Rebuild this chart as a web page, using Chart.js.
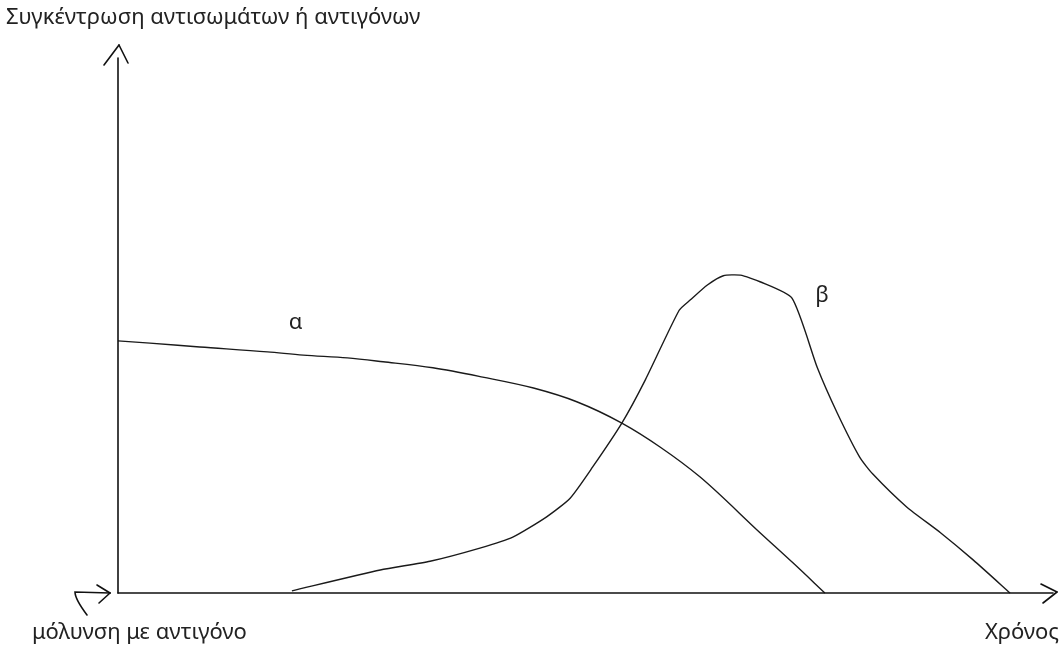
<!DOCTYPE html>
<html>
<head>
<meta charset="utf-8">
<title>Συγκέντρωση αντισωμάτων ή αντιγόνων</title>
<script src="https://cdn.jsdelivr.net/npm/chart.js@4/dist/chart.umd.min.js"></script>
<style>
    html, body { margin: 0; padding: 0; background: #fff; }
    #wrap { width: 1064px; height: 646px; }
</style>
</head>
<body>
<div id="wrap"><canvas id="curves"></canvas></div>
<script>

//curve α (antigen), x = time, y = concentration
const alphaX = [0, 3.4, 8.7, 15.9, 19.7, 24.4, 28.2, 33.5, 38.8, 44.2, 48.8, 53.6, 57.7, 61.9, 68.3, 71.8, 75.2];
const alphaY = [46.0, 45.6, 44.9, 44.0, 43.4, 42.9, 42.2, 41.1, 39.4, 37.4, 34.9, 31.0, 26.6, 21.2, 11.0, 5.5, 0];

//curve β (antibodies)
const betaX = [18.5, 27.9, 33.2, 38.5, 42.0, 45.6, 48.1, 50.5, 53.6, 56.1, 59.7, 60.9, 62.7, 64.4, 66.2, 68.3, 71.7, 74.4, 76.5, 78.9, 80.3, 83.9, 87.5, 91.0, 94.9];
const betaY = [0.4, 4.2, 5.8, 8.2, 10.2, 13.9, 17.3, 23.0, 31.0, 38.9, 51.6, 53.5, 56.2, 57.9, 58.0, 56.8, 53.8, 41.1, 32.9, 24.8, 21.7, 15.7, 11.0, 6.0, 0];

const yTitle = 'Συγκέντρωση αντισωμάτων ή αντιγόνων';
const startLabel = 'μόλυνση με αντιγόνο';
const xTitle = 'Χρόνος';
const curveNames = ['α', 'β'];

let canvas = document.getElementById("curves");
const textFont = '22px "Noto Sans", "Open Sans", sans-serif';
const ink = '#222';

function toPoints(xs, ys){
    let pts = [];
    for(let i = 0; i < xs.length; i++){
        pts.push({x: xs[i], y: ys[i]});
    }
    return pts;
}

function line(ctx, x1, y1, x2, y2){
    ctx.beginPath();
    ctx.moveTo(x1, y1);
    ctx.lineTo(x2, y2);
    ctx.stroke();
}

//hand drawn axes, arrows and texts
const sketchPlugin = {
    id: 'sketch',
    afterDatasetsDraw(chart){
        let ctx = chart.ctx;
        let sx = chart.scales.x;
        let sy = chart.scales.y;
        let ox = sx.getPixelForValue(0);
        let oy = sy.getPixelForValue(0);
        let top = chart.chartArea.top;
        let right = chart.chartArea.right;

        ctx.save();
        ctx.strokeStyle = '#111';
        ctx.lineWidth = 1.6;
        ctx.lineCap = 'round';

        //y axis
        line(ctx, ox, oy, ox, top + 13);
        line(ctx, ox + 1, top, ox - 14, top + 20);
        line(ctx, ox + 1, top, ox + 10, top + 18);

        //x axis
        line(ctx, ox, oy, right - 5, oy);
        line(ctx, right - 1, oy - 1, right - 17, oy - 9);
        line(ctx, right - 1, oy - 1, right - 15, oy + 10);

        //infection arrow
        ctx.beginPath();
        ctx.moveTo(ox - 31, oy + 22);
        ctx.quadraticCurveTo(ox - 43, oy + 6, ox - 43, oy - 1);
        ctx.lineTo(ox - 8, oy);
        ctx.stroke();
        line(ctx, ox - 8, oy, ox - 21, oy - 8);
        line(ctx, ox - 8, oy, ox - 19, oy + 10);

        //texts
        ctx.fillStyle = ink;
        ctx.font = textFont;
        ctx.textBaseline = 'middle';
        ctx.textAlign = 'left';
        ctx.fillText(yTitle, 6, 18);
        ctx.fillText(startLabel, 32, 633);
        ctx.textAlign = 'right';
        ctx.fillText(xTitle, 1059, 633);

        ctx.textAlign = 'center';
        ctx.fillText(curveNames[0], sx.getPixelForValue(18.9), sy.getPixelForValue(49.3));
        ctx.fillText(curveNames[1], sx.getPixelForValue(74.9), sy.getPixelForValue(54.2));
        ctx.restore();
    }
};

let graphChart = new Chart(canvas, {
    type: 'scatter',
    data: {
        datasets: [{
            label: curveNames[0],
            data: toPoints(alphaX, alphaY),
            showLine: true,
            borderColor: '#1a1a1a',
            borderWidth: 1.4,
            pointRadius: 0,
            cubicInterpolationMode: 'monotone'
        }, {
            label: curveNames[1],
            data: toPoints(betaX, betaY),
            showLine: true,
            borderColor: '#1a1a1a',
            borderWidth: 1.4,
            pointRadius: 0,
            tension: 0.2
        }]
    },
    options: {
        responsive: true,
        maintainAspectRatio: false,
        animation: false,
        clip: false,
        layout: {
            padding: {left: 118, right: 6, top: 45, bottom: 53}
        },
        scales: {
            x: {type: 'linear', min: 0, max: 100, display: false},
            y: {type: 'linear', min: 0, max: 100, display: false}
        },
        plugins: {
            legend: {display: false},
            tooltip: {enabled: false}
        }
    },
    plugins: [sketchPlugin]
});

</script>
</body>
</html>
